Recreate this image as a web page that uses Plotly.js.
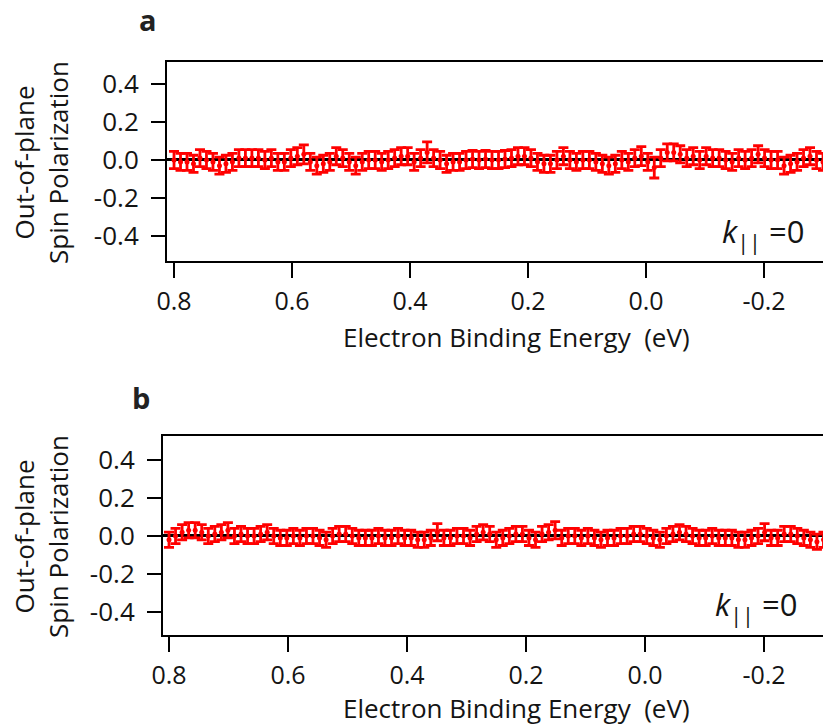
<!DOCTYPE html>
<html>
<head>
<meta charset="utf-8">
<script src="https://cdn.plot.ly/plotly-3.0.1.min.js"></script>
<style>
html, body { margin: 0; padding: 0; overflow: hidden; background: #fff; }
#chart { width: 823px; height: 727px; }
</style>
</head>
<body>
<div id="chart"></div>
<script>
// Electron binding energy (eV), shared by both panels
const energy = [0.800,0.789,0.778,0.767,0.756,0.745,0.734,0.723,0.712,0.701,0.690,0.679,0.668,0.657,0.646,0.635,0.624,0.613,0.602,0.591,0.580,0.569,0.558,0.547,0.536,0.525,0.514,0.503,0.492,0.481,0.470,0.459,0.448,0.437,0.426,0.415,0.404,0.393,0.382,0.371,0.360,0.349,0.338,0.327,0.316,0.305,0.294,0.283,0.272,0.261,0.250,0.239,0.228,0.217,0.206,0.195,0.184,0.173,0.162,0.151,0.140,0.129,0.118,0.107,0.096,0.085,0.074,0.063,0.052,0.041,0.030,0.019,0.008,-0.003,-0.014,-0.025,-0.036,-0.047,-0.058,-0.069,-0.080,-0.091,-0.102,-0.113,-0.124,-0.135,-0.146,-0.157,-0.168,-0.179,-0.190,-0.201,-0.212,-0.223,-0.234,-0.245,-0.256,-0.267,-0.278,-0.289,-0.300];

// Panel a: out-of-plane spin polarization
const polA = [0.00,-0.01,-0.01,-0.02,0.01,0.00,-0.01,-0.03,-0.02,-0.01,
  0.01,0.01,0.01,0.01,0.00,0.01,-0.01,-0.01,0.01,0.02,
  0.03,-0.01,-0.03,-0.02,-0.01,0.02,0.01,-0.01,-0.03,-0.01,
  0.00,0.00,-0.01,0.00,0.01,0.02,0.02,-0.01,0.01,0.04,
  0.01,0.00,-0.02,-0.01,-0.01,0.00,0.005,0.00,0.005,0.00,
  0.00,0.005,0.01,0.02,0.02,0.01,-0.01,-0.02,-0.02,0.00,
  0.02,0.00,-0.01,0.00,0.00,-0.01,-0.02,-0.03,-0.02,0.00,
  -0.01,0.01,0.02,-0.01,-0.04,0.01,0.04,0.04,0.03,0.01,
  0.02,0.00,0.02,0.01,0.01,0.00,-0.01,0.01,0.00,0.01,
  0.03,0.01,0.00,0.00,-0.03,-0.02,-0.01,0.01,0.02,0.00,
  -0.01];
const errA = [0.045,0.045,0.045,0.045,0.045,0.045,0.045,0.045,0.045,0.045,
  0.045,0.045,0.045,0.045,0.045,0.045,0.045,0.045,0.045,0.045,
  0.05,0.045,0.045,0.045,0.045,0.045,0.045,0.045,0.045,0.045,
  0.045,0.045,0.045,0.045,0.045,0.045,0.045,0.045,0.045,0.055,
  0.045,0.045,0.045,0.045,0.045,0.045,0.045,0.045,0.045,0.045,
  0.045,0.045,0.045,0.045,0.045,0.045,0.045,0.045,0.045,0.045,
  0.045,0.045,0.045,0.045,0.045,0.045,0.045,0.045,0.045,0.045,
  0.045,0.045,0.05,0.045,0.055,0.045,0.045,0.045,0.045,0.045,
  0.045,0.045,0.045,0.045,0.045,0.045,0.045,0.045,0.045,0.045,
  0.045,0.045,0.045,0.045,0.045,0.045,0.045,0.045,0.045,0.045,
  0.045];

// Panel b: out-of-plane spin polarization
const polB = [-0.02,0.00,0.02,0.03,0.03,0.02,0.00,0.01,0.02,0.03,
  0.00,0.01,0.00,0.00,0.01,0.02,0.00,-0.01,-0.01,0.00,
  -0.01,0.00,0.00,-0.01,-0.02,0.00,0.01,0.01,0.00,-0.01,
  -0.01,-0.01,0.00,-0.01,-0.01,0.00,-0.01,-0.01,-0.02,-0.02,
  -0.01,0.02,-0.01,-0.01,0.00,0.00,-0.01,0.01,0.02,0.01,
  -0.02,-0.01,0.00,0.01,0.01,-0.01,-0.02,0.01,0.02,0.03,
  -0.01,0.00,0.00,-0.01,0.00,-0.01,-0.02,-0.01,-0.01,0.00,
  0.00,0.01,0.01,0.00,-0.01,-0.02,0.00,0.01,0.02,0.01,
  0.00,-0.01,-0.01,0.00,-0.01,-0.01,-0.01,-0.02,-0.02,-0.01,
  0.00,0.02,-0.01,-0.01,0.01,0.01,0.00,-0.01,-0.02,-0.03,
  -0.02];
const errB = [0.04,0.04,0.04,0.04,0.04,0.04,0.04,0.04,0.04,0.04,
  0.04,0.04,0.04,0.04,0.04,0.04,0.04,0.04,0.04,0.04,
  0.04,0.04,0.04,0.04,0.04,0.04,0.04,0.04,0.04,0.04,
  0.04,0.04,0.04,0.04,0.04,0.04,0.04,0.04,0.04,0.04,
  0.04,0.045,0.04,0.04,0.04,0.04,0.04,0.04,0.04,0.04,
  0.04,0.04,0.04,0.04,0.04,0.04,0.04,0.04,0.04,0.045,
  0.04,0.04,0.04,0.04,0.04,0.04,0.04,0.04,0.04,0.04,
  0.04,0.04,0.04,0.04,0.04,0.04,0.04,0.04,0.04,0.04,
  0.04,0.04,0.04,0.04,0.04,0.04,0.04,0.04,0.04,0.04,
  0.04,0.045,0.04,0.04,0.04,0.04,0.04,0.04,0.04,0.04,
  0.04];

const yTickVals = [-0.4, -0.2, 0.0, 0.2, 0.4];
const yTickText = ['-0.4', '-0.2', '0.0', '0.2', '0.4'];
const xTickVals = [0.8, 0.6, 0.4, 0.2, 0.0, -0.2];
const xTickText = ['0.8', '0.6', '0.4', '0.2', '0.0', '-0.2'];

const panelLabels = ['a', 'b'];
const yTitle = 'Out-of-plane<br>Spin Polarization';
const xTitle = 'Electron Binding Energy&nbsp;&nbsp;(eV)';
const kLabel = '<i>k</i><sub>||</sub> =0';

const W = 823, H = 727;
const FONT = '"Open Sans", "Liberation Sans", sans-serif';
const red = '#ff0000';
const TXT = '#141414';

function trace(y, err, xa, ya) {
  return {
    type: 'scatter', mode: 'markers', x: energy, y: y, xaxis: xa, yaxis: ya,
    marker: {color: red, size: 5, symbol: 'circle'},
    error_y: {type: 'data', array: err, visible: true, color: red, thickness: 2.8, width: 5},
    hoverinfo: 'x+y', showlegend: false
  };
}

function xAxis(domLeftPx, range, anchor) {
  return {
    domain: [domLeftPx / W, 1], range: range, anchor: anchor,
    tickmode: 'array', tickvals: xTickVals, ticktext: xTickText,
    ticks: 'outside', ticklen: 15, tickwidth: 2, tickcolor: '#000',
    ticklabelstandoff: 2,
    showline: true, linecolor: '#000', linewidth: 2, mirror: true,
    showgrid: false, zeroline: false,
    tickfont: {family: FONT, size: 25, color: TXT}
  };
}
function yAxis(domPx, range, anchor) {
  return {
    domain: [(H - domPx[1]) / H, (H - domPx[0]) / H], range: range, anchor: anchor,
    tickmode: 'array', tickvals: yTickVals, ticktext: yTickText,
    ticks: 'outside', ticklen: 14, tickwidth: 2, tickcolor: '#000',
    ticklabelstandoff: 7,
    showline: true, linecolor: '#000', linewidth: 2, mirror: false,
    showgrid: false, zeroline: true, zerolinecolor: '#000', zerolinewidth: 3,
    tickfont: {family: FONT, size: 26, color: TXT}
  };
}

function px(x) { return x / W; }
function py(y) { return (H - y) / H; }

const annotations = [
  {text: '<b>' + panelLabels[0] + '</b>', x: px(148), y: py(19), xref: 'paper', yref: 'paper', xanchor: 'center', yanchor: 'middle', borderpad: 0, showarrow: false, font: {family: FONT, size: 29, color: '#222'}},
  {text: '<b>' + panelLabels[1] + '</b>', x: px(141), y: py(398), xref: 'paper', yref: 'paper', xanchor: 'center', yanchor: 'middle', borderpad: 0, showarrow: false, font: {family: FONT, size: 29, color: '#222'}},
  {text: yTitle, x: px(41), y: py(163), xref: 'paper', yref: 'paper', xanchor: 'center', yanchor: 'middle', textangle: -90, showarrow: false, font: {family: FONT, size: 26, color: TXT}},
  {text: yTitle, x: px(41), y: py(537), xref: 'paper', yref: 'paper', xanchor: 'center', yanchor: 'middle', textangle: -90, showarrow: false, font: {family: FONT, size: 26, color: TXT}},
  {text: xTitle, x: px(516), y: py(337), xref: 'paper', yref: 'paper', xanchor: 'center', yanchor: 'middle', showarrow: false, font: {family: FONT, size: 26, color: TXT}},
  {text: xTitle, x: px(516), y: py(708), xref: 'paper', yref: 'paper', xanchor: 'center', yanchor: 'middle', showarrow: false, font: {family: FONT, size: 26, color: TXT}},
  {text: kLabel, x: px(807), y: py(233), xref: 'paper', yref: 'paper', xanchor: 'right', yanchor: 'middle', showarrow: false, font: {family: FONT, size: 31, color: TXT}},
  {text: kLabel, x: px(800), y: py(606), xref: 'paper', yref: 'paper', xanchor: 'right', yanchor: 'middle', showarrow: false, font: {family: FONT, size: 31, color: TXT}}
];

const layout = {
  width: W, height: H,
  margin: {l: 0, r: 0, t: 0, b: 0},
  paper_bgcolor: '#fff', plot_bgcolor: '#fff',
  showlegend: false,
  xaxis: xAxis(167, [0.8119, -0.300], 'y'),
  yaxis: yAxis([62, 261], [-0.532, 0.516], 'x'),
  xaxis2: xAxis(163, [0.8101, -0.2992], 'y2'),
  yaxis2: yAxis([436, 635], [-0.521, 0.526], 'x2'),
  annotations: annotations
};

Plotly.newPlot('chart', [trace(polA, errA, 'x', 'y'), trace(polB, errB, 'x2', 'y2')], layout, {displayModeBar: false, staticPlot: true});
</script>
</body>
</html>
